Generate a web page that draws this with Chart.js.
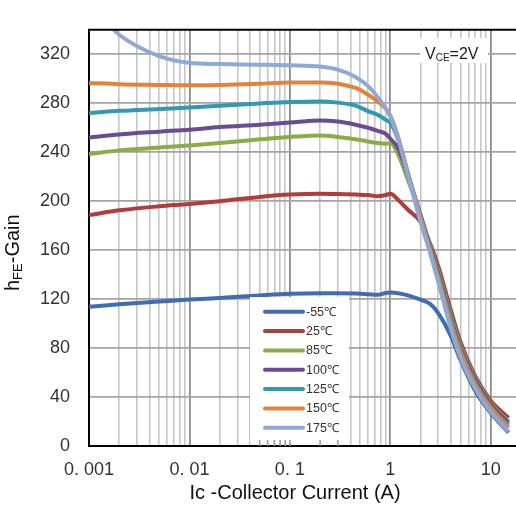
<!DOCTYPE html>
<html>
<head>
<meta charset="utf-8">
<script src="https://cdn.jsdelivr.net/npm/chart.js@4.4.1/dist/chart.umd.min.js"></script>
<style>
  html, body { margin: 0; padding: 0; background: #fff; overflow: hidden; }
  canvas { display: block; }
</style>
</head>
<body>
<canvas id="hfeChart" width="540" height="508"></canvas>
<script>
// collector current (A), shared by every curve
const currents = [0.001, 0.002, 0.005, 0.01, 0.02, 0.05, 0.1, 0.2, 0.3, 0.45, 0.6, 0.75, 0.9, 1, 1.2, 1.5, 2, 2.5, 3, 4, 5, 7, 10, 15];

// hFE at each temperature
const hfeM55 = [113.7, 115.8, 118, 119.6, 121, 123, 124.3, 124.8, 124.8, 124.5, 124, 123.5, 125, 125.3, 124.8, 123, 119.5, 116, 108.5, 90, 70, 45, 27, 11];
const hfe25  = [188.6, 192.5, 195.8, 197.7, 200, 203.5, 205.4, 206, 205.8, 205.4, 205, 204, 205, 206, 201, 193, 183, 165, 147, 111, 85, 57, 37, 23];
const hfe85  = [238.5, 241.5, 243.8, 245.5, 247.5, 250.5, 252.5, 253.7, 252.5, 250.6, 248.8, 247.5, 247, 247.5, 238, 217, 189, 163, 143, 107, 82, 55, 35, 20];
const hfe100 = [252, 254.5, 256.8, 258.4, 260.5, 262.5, 264.3, 266, 265, 262.5, 260, 257.5, 255, 251, 243, 221, 188, 162, 141, 105, 80, 54, 34, 19];
const hfe125 = [272, 273.8, 275.3, 276.5, 278, 279.8, 281, 281.5, 280.5, 278, 273.5, 270.5, 266.5, 264, 250, 223, 187, 161, 139, 103, 78, 52, 32, 17];
const hfe150 = [296.6, 295.6, 295, 294.6, 295, 296, 297, 297, 296, 292.5, 287, 281.5, 275.5, 270, 252, 222, 186, 159, 137, 100, 76, 50, 31, 15];
const hfe175 = [362, 336, 318.5, 313, 312, 311.5, 311, 310, 307.5, 301.5, 294, 285, 276, 269, 251, 221, 183, 157, 134, 96, 72, 47, 28, 12];

const tempLabels = ['-55℃', '25℃', '85℃', '100℃', '125℃', '150℃', '175℃'];
const decadeValues = [0.001, 0.01, 0.1, 1, 10];
const decadeLabels = ['0. 001', '0. 01', '0. 1', '1', '10'];

const allSeries = [hfeM55, hfe25, hfe85, hfe100, hfe125, hfe150, hfe175];
const lineColors = ['#3f6db3', '#b23c39', '#8bad48', '#6a4c95', '#3199b4', '#e5823a', '#8fa9d7'];

const FONT = "'Liberation Sans', Arial, sans-serif";

function isDecade(v) {
    const e = Math.log10(v);
    return Math.abs(e - Math.round(e)) < 1e-6;
}

const datasets = allSeries.map((vals, i) => ({
    label: tempLabels[i],
    data: vals.map((v, j) => ({ x: currents[j], y: v })),
    borderColor: lineColors[i],
    backgroundColor: lineColors[i],
    borderWidth: 4,
    pointRadius: 0,
    cubicInterpolationMode: 'monotone',
    order: allSeries.length - i   // later temperatures sit on top
}));

// legend box, condition label, axis titles and top frame
const overlay = {
    id: 'overlay',
    afterDraw(chart) {
        const ctx = chart.ctx;
        const area = chart.chartArea;
        const xs = chart.scales.x;
        ctx.save();

        // top frame line
        ctx.strokeStyle = '#000';
        ctx.lineWidth = 2;
        ctx.beginPath();
        ctx.moveTo(area.left - 1, area.top);
        ctx.lineTo(area.right, area.top);
        ctx.stroke();

        // legend
        const lx = 250, ly = 297, lw = 99, lh = 146;
        ctx.fillStyle = '#fff';
        ctx.fillRect(lx, ly, lw, lh);
        // inside tick marks showing through
        ctx.strokeStyle = '#9a9a9a';
        ctx.lineWidth = 1.5;
        xs.ticks.forEach(t => {
            const px = xs.getPixelForValue(t.value);
            if (px > lx && px < lx + lw) {
                ctx.beginPath();
                ctx.moveTo(px, area.bottom);
                ctx.lineTo(px, area.bottom - 6);
                ctx.stroke();
            }
        });
        ctx.font = '12.5px ' + FONT;
        ctx.textBaseline = 'middle';
        ctx.textAlign = 'left';
        ctx.lineCap = 'round';
        chart.data.datasets.forEach((ds, i) => {
            const y = 311.7 + i * 19.35;
            ctx.strokeStyle = ds.borderColor;
            ctx.lineWidth = 4;
            ctx.beginPath();
            ctx.moveTo(265, y);
            ctx.lineTo(303, y);
            ctx.stroke();
            ctx.fillStyle = '#333';
            ctx.fillText(ds.label, 306, y + 0.5);
        });

        // V_CE label
        ctx.fillStyle = '#fff';
        ctx.fillRect(420, 38, 68, 25);
        ctx.fillStyle = '#222';
        ctx.textBaseline = 'alphabetic';
        let tx = 425;
        ctx.font = '16px ' + FONT;
        ctx.fillText('V', tx, 58.5);
        tx += ctx.measureText('V').width;
        ctx.font = '10px ' + FONT;
        ctx.fillText('CE', tx, 60.5);
        tx += ctx.measureText('CE').width;
        ctx.font = '16px ' + FONT;
        ctx.fillText('=2V', tx, 58.5);

        // x axis title
        ctx.font = '20px ' + FONT;
        ctx.textAlign = 'center';
        ctx.fillStyle = '#111';
        ctx.fillText('Ic -Collector Current (A)', 295, 499);

        // y axis title, h with FE subscript
        ctx.translate(19, 291);
        ctx.rotate(-Math.PI / 2);
        ctx.textAlign = 'left';
        let ty = 0;
        ctx.font = '20px ' + FONT;
        ctx.fillText('h', ty, 0);
        ty += ctx.measureText('h').width;
        ctx.font = '13px ' + FONT;
        ctx.fillText('FE', ty, 2.5);
        ty += ctx.measureText('FE').width;
        ctx.font = '20px ' + FONT;
        ctx.fillText('-Gain', ty, 0);

        ctx.restore();
    }
};

new Chart(document.getElementById('hfeChart'), {
    type: 'line',
    data: { datasets },
    options: {
        responsive: false,
        animation: false,
        events: [],
        layout: { padding: { top: 6, left: 0, right: 19, bottom: 0 } },
        plugins: {
            legend: { display: false },
            tooltip: { enabled: false },
            title: { display: false }
        },
        scales: {
            x: {
                type: 'logarithmic',
                position: 'bottom',
                min: 0.001,
                max: 20,
                afterBuildTicks: scale => {
                    // keep only 1..9 x 10^n
                    scale.ticks = scale.ticks.filter(t => {
                        const m = t.value / Math.pow(10, Math.floor(Math.log10(t.value) + 1e-9));
                        return Math.abs(m - Math.round(m)) < 1e-6;
                    });
                },
                afterFit: scale => { scale.height = 62; },
                grid: {
                    drawTicks: false,
                    color: c => (c.tick && isDecade(c.tick.value)) ? '#8c8c8c' : '#c6c6c6',
                    lineWidth: c => (c.tick && isDecade(c.tick.value)) ? 1.8 : 1.6
                },
                border: { display: true, color: '#000', width: 2 },
                ticks: {
                    autoSkip: false,
                    maxRotation: 0,
                    padding: 13,
                    color: '#333',
                    font: { family: FONT, size: 18 },
                    callback: v => {
                        const k = decadeValues.findIndex(d => Math.abs(v - d) / d < 1e-6);
                        return k >= 0 ? decadeLabels[k] : '';
                    }
                }
            },
            y: {
                type: 'linear',
                min: 0,
                max: 340,
                afterFit: scale => { scale.width = 89; },
                grid: { drawTicks: false, color: '#a4a4a4', lineWidth: 1.8 },
                border: { display: true, color: '#000', width: 2 },
                ticks: {
                    stepSize: 40,
                    includeBounds: false,
                    padding: 19,
                    color: '#333',
                    font: { family: FONT, size: 18 }
                }
            }
        }
    },
    plugins: [overlay]
});
</script>
</body>
</html>
